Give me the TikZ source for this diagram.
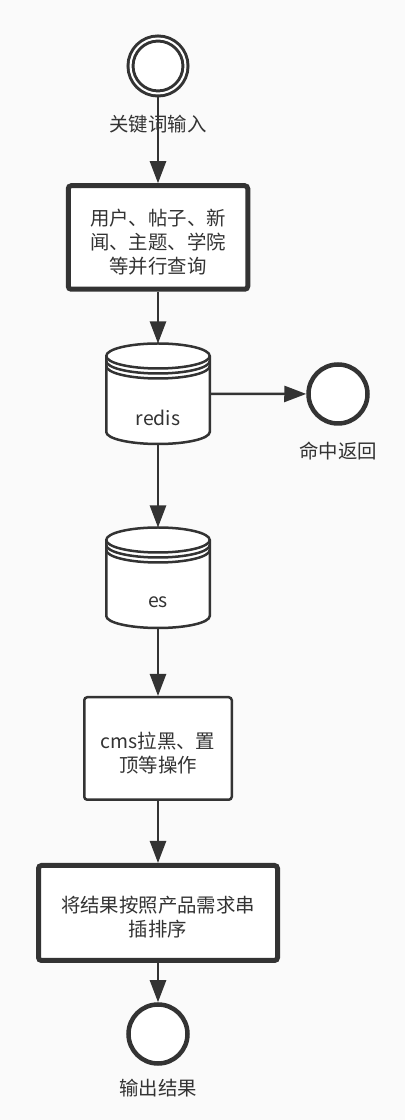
\documentclass[tikz,border=0pt]{standalone}
\usepackage{fontspec}
\setmainfont{Noto Sans CJK SC}
\usetikzlibrary{arrows.meta}

\definecolor{ink}{HTML}{333333}
\definecolor{canvas}{HTML}{FAFAFA}

% extra room above the first line, so the text sits a little low in its box
\newcommand{\tline}{\rule{0pt}{25pt}}

% drum shape drawn over an empty dbbox node
\newcommand{\dbdrum}[1]{%
	\filldraw[draw=ink, fill=white, line width=2.5pt]
		([yshift=-12.5pt]#1.north west) -- ([yshift=12pt]#1.south west)
		arc[start angle=180, end angle=360, x radius=51.75pt, y radius=12pt]
		-- ([yshift=-12.5pt]#1.north east)
		arc[start angle=0, end angle=180, x radius=51.75pt, y radius=12.5pt] -- cycle;
	\foreach \s in {0,5,10}
		\draw[draw=ink, line width=2.5pt] ([yshift={-12.5-\s}]#1.north west)
			arc[start angle=180, end angle=360, x radius=51.75pt, y radius=12.5pt];
}

\begin{document}
\begin{tikzpicture}[x=1pt, y=1pt, font=\fontsize{19.4}{24}\selectfont, text=ink,
	startev/.style={circle, draw=ink, line width=3pt, double=white, double distance=2pt,
	                fill=white, minimum size=55pt, inner sep=0pt},
	endev/.style={circle, draw=ink, line width=4.5pt, fill=white, minimum size=59pt, inner sep=0pt},
	task/.style={rectangle, rounded corners=3pt, draw=ink, line width=2.5pt, fill=white,
	             align=center, inner sep=0pt},
	bigtask/.style={task, line width=5pt},
	dbbox/.style={rectangle, minimum width=103.5pt, minimum height=100.5pt, inner sep=0pt, outer sep=0pt},
	note/.style={inner sep=0pt}]
	\fill[canvas] (0,0) rectangle (405,1120);

	\node[startev] (start) at (158,1054) {};
	\node[note] (startlbl) at (158,996) {关键词输入};
	\node[bigtask, minimum width=179.5pt, minimum height=103.5pt] (query) at (158,882.5)
		{\tline 用户、帖子、新\\闻、主题、学院\\等并行查询};
	\node[dbbox] (redis) at (158,726.25) {};
	\node[dbbox] (es) at (158,542.25) {};
	\node[endev] (hit) at (338,726) {};
	\node[note] (hitlbl) at (338,669) {命中返回};
	\node[task, minimum width=147.5pt, minimum height=102.5pt] (cms) at (158,371.5)
		{\tline cms拉黑、置\\顶等操作};
	\node[bigtask, minimum width=239pt, minimum height=95pt] (merge) at (158,207)
		{\tline 将结果按照产品需求串\\插排序};
	\node[endev] (finish) at (158,86) {};
	\node[note] (finishlbl) at (158,32) {输出结果};

	\dbdrum{redis}
	\dbdrum{es}
	\node[note] (redislbl) at (158,702) {redis};
	\node[note] (eslbl) at (158,518) {es};

	\begin{scope}[>={Triangle[length=22pt, width=16pt]},
	              every edge/.style={draw=ink, line width=2.5pt, ->}]
		\path (start) edge (query);
		\path (query) edge (redis);
		\path (redis) edge (hit);
		\path (redis) edge (es);
		\path (es) edge (cms);
		\path (cms) edge (merge);
		\path (merge) edge (finish);
	\end{scope}
\end{tikzpicture}
\end{document}
